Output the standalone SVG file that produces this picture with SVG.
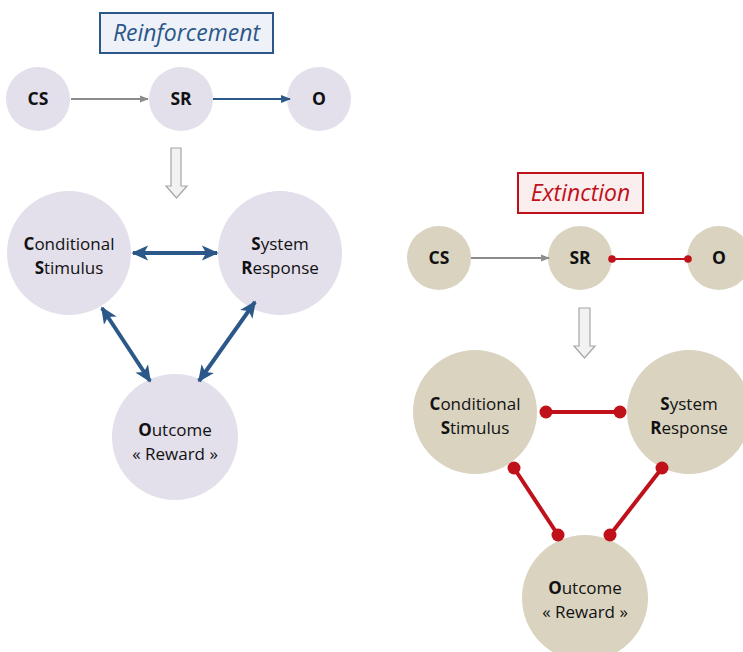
<svg xmlns="http://www.w3.org/2000/svg" width="743" height="652" viewBox="0 0 743 652">
<defs>
<style>
.lc{fill:#e3dfeb}
.rc{fill:#d9d3c0}
.t{font-family:"Open Sans","Liberation Sans",sans-serif;font-size:17px;fill:#111111;text-anchor:middle}
.s{font-family:"Open Sans","Liberation Sans",sans-serif;font-size:17.5px;font-weight:bold;fill:#111111;text-anchor:middle}
.b{font-weight:bold}
.gray{stroke:#8c8c8c;stroke-width:2;fill:none}
.blue{stroke:#2b5789;fill:none}
.red{stroke:#c0111b;fill:none}
.dot{fill:#c0111b}
.hollow{fill:#f2f2f2;stroke:#a6a6a6;stroke-width:1.2}
</style>
<marker id="ag" viewBox="0 0 10 10" refX="9" refY="5" markerWidth="4.5" markerHeight="4.5" orient="auto"><path d="M0,1 L10,5 L0,9 z" fill="#8c8c8c"/></marker>
<marker id="ab" viewBox="0 0 10 10" refX="9" refY="5" markerWidth="4.5" markerHeight="4.5" orient="auto"><path d="M0,1 L10,5 L0,9 z" fill="#2b5789"/></marker>
<marker id="abig" viewBox="0 0 10 10" refX="9" refY="5" markerWidth="4.2" markerHeight="4.2" orient="auto-start-reverse"><path d="M0,0.5 L10,5 L0,9.5 L2.5,5 z" fill="#2b5789"/></marker>
</defs>
<rect width="743" height="652" fill="#ffffff"/>

<g id="title-reinforcement">
<rect x="100" y="13" width="173" height="40" fill="#eef2f8" stroke="#2b5789" stroke-width="2"/>
<text x="186.5" y="41" font-family="Open Sans,Liberation Sans,sans-serif" font-size="23" font-style="italic" fill="#2b5789" text-anchor="middle">Reinforcement</text>
</g>
<g id="title-extinction">
<rect x="518" y="173" width="125" height="40" fill="#fbeeee" stroke="#c0111b" stroke-width="2"/>
<text x="580.5" y="201" font-family="Open Sans,Liberation Sans,sans-serif" font-size="23" font-style="italic" fill="#c0111b" text-anchor="middle">Extinction</text>
</g>

<g id="L-CS"><circle class="lc" cx="38" cy="99" r="32"/><text class="s" x="38" y="105">CS</text></g>
<g id="L-SR"><circle class="lc" cx="181" cy="99" r="32"/><text class="s" x="181" y="105">SR</text></g>
<g id="L-O"><circle class="lc" cx="319" cy="99" r="32"/><text class="s" x="319" y="105">O</text></g>

<g id="L-CondStim"><circle class="lc" cx="69" cy="253" r="62"/>
<text class="t" x="69" y="250"><tspan class="b">C</tspan>onditional</text>
<text class="t" x="69" y="274"><tspan class="b">S</tspan>timulus</text></g>
<g id="L-SysResp"><circle class="lc" cx="280" cy="253" r="62"/>
<text class="t" x="280" y="250"><tspan class="b">S</tspan>ystem</text>
<text class="t" x="280" y="274"><tspan class="b">R</tspan>esponse</text></g>
<g id="L-Outcome"><circle class="lc" cx="175" cy="437" r="63"/>
<text class="t" x="175" y="436"><tspan class="b">O</tspan>utcome</text>
<text class="t" x="175" y="460">« Reward »</text></g>

<g id="R-CS"><circle class="rc" cx="439" cy="258" r="32"/><text class="s" x="439" y="264">CS</text></g>
<g id="R-SR"><circle class="rc" cx="580" cy="258" r="32"/><text class="s" x="580" y="264">SR</text></g>
<g id="R-O"><circle class="rc" cx="719" cy="258" r="32"/><text class="s" x="719" y="264">O</text></g>

<g id="R-CondStim"><circle class="rc" cx="475" cy="412" r="62"/>
<text class="t" x="475" y="410"><tspan class="b">C</tspan>onditional</text>
<text class="t" x="475" y="434"><tspan class="b">S</tspan>timulus</text></g>
<g id="R-SysResp"><circle class="rc" cx="689" cy="412" r="62"/>
<text class="t" x="689" y="410"><tspan class="b">S</tspan>ystem</text>
<text class="t" x="689" y="434"><tspan class="b">R</tspan>esponse</text></g>
<g id="R-Outcome"><circle class="rc" cx="585" cy="598" r="63"/>
<text class="t" x="585" y="594"><tspan class="b">O</tspan>utcome</text>
<text class="t" x="585" y="618">« Reward »</text></g>

<g id="connectors">
<line class="gray" x1="71" y1="99" x2="148" y2="99" marker-end="url(#ag)"/>
<line class="blue" stroke-width="2.2" x1="213" y1="99" x2="290" y2="99" marker-end="url(#ab)"/>
<path class="hollow" d="M171,148 H181 V186 H187 L176.5,198 L166,186 H171 Z"/>

<line class="blue" stroke-width="4" x1="133" y1="253" x2="217" y2="253" marker-start="url(#abig)" marker-end="url(#abig)"/>
<line class="blue" stroke-width="4" x1="102" y1="308" x2="150" y2="381" marker-start="url(#abig)" marker-end="url(#abig)"/>
<line class="blue" stroke-width="4" x1="255" y1="302" x2="199" y2="381" marker-start="url(#abig)" marker-end="url(#abig)"/>

<line class="gray" x1="471" y1="258" x2="549" y2="258" marker-end="url(#ag)"/>
<line class="red" stroke-width="2.2" x1="612" y1="259" x2="688" y2="259"/>
<circle class="dot" cx="612" cy="259" r="3.8"/>
<circle class="dot" cx="688" cy="259" r="3.8"/>
<path class="hollow" d="M579,308 H590 V346 H595 L584.5,358 L574,346 H579 Z"/>

<line class="red" stroke-width="4" x1="546" y1="412" x2="620" y2="412"/>
<circle class="dot" cx="546" cy="412" r="6.5"/>
<circle class="dot" cx="620" cy="412" r="6.5"/>
<line class="red" stroke-width="4" x1="514" y1="468" x2="558" y2="535"/>
<circle class="dot" cx="514" cy="468" r="6.5"/>
<circle class="dot" cx="558" cy="535" r="6.5"/>
<line class="red" stroke-width="4" x1="662" y1="468" x2="610" y2="535"/>
<circle class="dot" cx="662" cy="468" r="6.5"/>
<circle class="dot" cx="610" cy="535" r="6.5"/>
</g>
</svg>
